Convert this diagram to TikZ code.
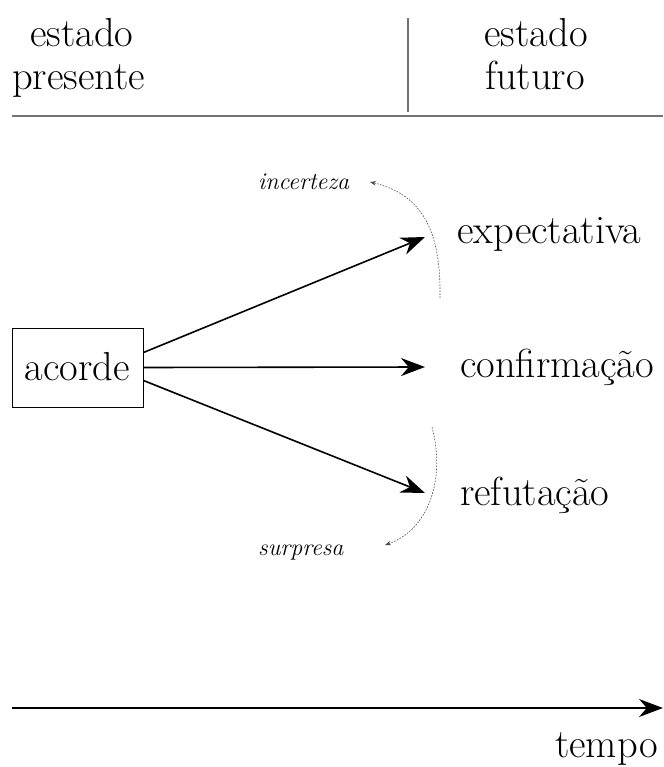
\documentclass[tikz,border=0pt]{standalone}
\usepackage{fontspec}
\usetikzlibrary{arrows.meta}
\tikzset{
  lbl/.style={anchor=base west, inner sep=0pt, font=\fontsize{40.5}{48}\selectfont},
  lblc/.style={anchor=base, inner sep=0pt, font=\fontsize{40.5}{48}\selectfont},
  itl/.style={anchor=base west, inner sep=0pt, font=\fontsize{24}{28}\selectfont\itshape},
  rule/.style={draw=black!55, line width=1.2pt},
  bigarrow/.style={line width=1.6pt, -{Stealth[length=24pt,width=18pt]}},
  dotarc/.style={draw=black!70, line width=0.6pt, dash pattern=on 1.6pt off 1.4pt, -{Stealth[length=6pt,width=4.5pt]}},
  box/.style={draw, line width=1pt, minimum width=131pt, minimum height=79pt, inner sep=0pt, font=\fontsize{40.5}{48}\selectfont}
}
\begin{document}
\begin{tikzpicture}[x=1pt,y=-1pt]
\useasboundingbox (0,0) rectangle (663,767);
% header
\node[lbl] (ep1) at (30,47) {estado};
\node[lbl] (ep2) at (12,90) {presente};
\node[lblc] (ef1) at (536,47) {estado};
\node[lblc] (ef2) at (535,90) {futuro};
\coordinate (vtop) at (408,18);
\coordinate (vbot) at (408,112);
\draw[rule] (vtop) -- (vbot);
\coordinate (hl) at (12,116);
\coordinate (hr) at (663,116);
\draw[rule] (hl) -- (hr);
% box
\node[box] (acorde) at (77.5,367.5) {\raisebox{2pt}{acorde}};
% targets
\node[lbl] (expect) at (457,243) {expectativa};
\node[lbl] (confirm) at (460,377) {confirmação};
\node[lbl] (refut) at (460,505) {refutação};
\coordinate (t1) at (425,237);
\coordinate (t2) at (425,367);
\coordinate (t3) at (425,493);
\draw[bigarrow] ([yshift=15pt]acorde.east) -- (t1);
\draw[bigarrow] (acorde.east) -- (t2);
\draw[bigarrow] ([yshift=-13pt]acorde.east) -- (t3);
% side labels
\node[itl] (inc) at (258,190) {incerteza};
\node[itl] (sur) at (258,555) {surpresa};
\coordinate (a1s) at (440,298);
\coordinate (a1e) at (370,182);
\coordinate (a2s) at (432,427);
\coordinate (a2e) at (385,545);
\draw[dotarc] (a1s) .. controls (441,235) and (425,195) .. (a1e);
\draw[dotarc] (a2s) .. controls (446,480) and (428,530) .. (a2e);
% time axis
\coordinate (tl) at (12,708);
\coordinate (tr) at (663,708);
\draw[bigarrow] (tl) -- (tr);
\node[lbl] (tempo) at (555,757) {tempo};
\end{tikzpicture}
\end{document}
